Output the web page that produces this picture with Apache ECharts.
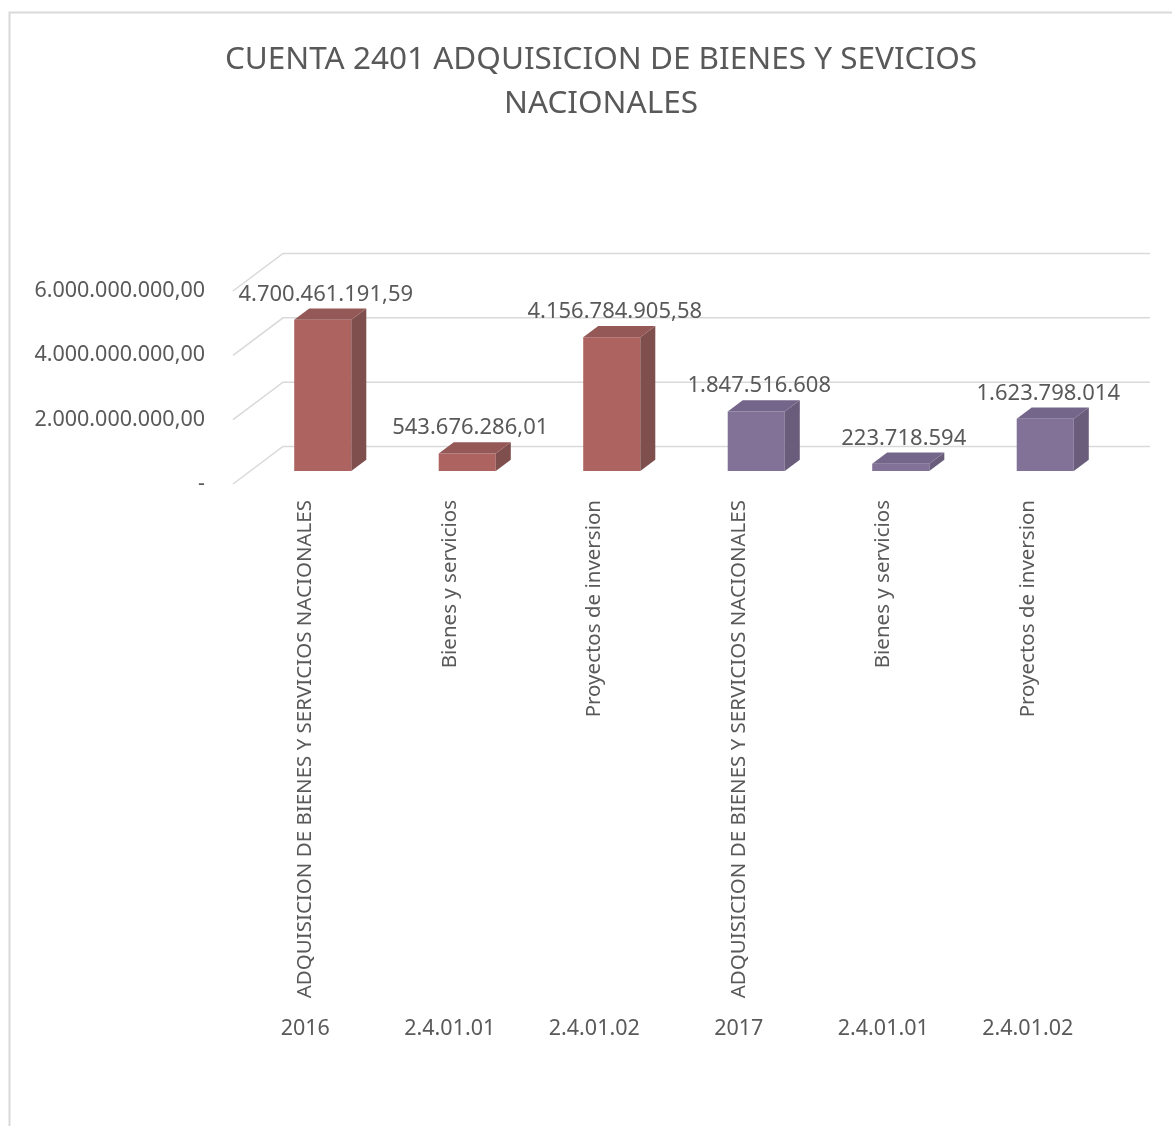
<!DOCTYPE html>
<html>
<head>
<meta charset="utf-8">
<title>Cuenta 2401</title>
<script src="https://cdn.jsdelivr.net/npm/echarts@6/dist/echarts.min.js"></script>
<style>
  html, body { margin: 0; padding: 0; background: #fff; }
  #chart { width: 1172px; height: 1126px; }
</style>
</head>
<body>
<div id="chart"></div>
<script>
// categories (rotated name + code line under it)
var names = [
  "ADQUISICION DE BIENES Y SERVICIOS NACIONALES",
  "Bienes y servicios",
  "Proyectos de inversion",
  "ADQUISICION DE BIENES Y SERVICIOS NACIONALES",
  "Bienes y servicios",
  "Proyectos de inversion"
];
var codes = ["2016", "2.4.01.01", "2.4.01.02", "2017", "2.4.01.01", "2.4.01.02"];

// values
var values2016 = [4700461191.59, 543676286.01, 4156784905.58];
var values2017 = [1847516608, 223718594, 1623798014];

// value axis ticks
var yTicks = [0, 2000000000, 4000000000, 6000000000];

// depth of the 3d box (front -> back wall)
var DX = 50, DY = -37.5;
var TEXT = "#595959";
var FONT = "Noto Sans";

function fmt(v, dec) {
  var p = v.toFixed(dec).split(".");
  var s = p[0].replace(/\B(?=(\d{3})+(?!\d))/g, ".");
  return dec ? s + "," + p[1] : s;
}

function barItem(colors, dec) {
  return function (params, api) {
    var i = api.value(0), v = api.value(1);
    var top = api.coord([i, v]);
    var base = api.coord([i, 0]);
    var band = api.size([1, 0])[0];
    var w = band * 0.395;
    // bar sits in the middle of the depth
    var ox = DX * 0.35, oy = DY * 0.35;
    var dx = DX * 0.3, dy = DY * 0.3;
    var xl = top[0] - w / 2 + ox, xr = xl + w;
    var yt = top[1] + oy, yb = base[1] + oy;
    return {
      type: "group",
      children: [
        { type: "rect", shape: { x: xl, y: yt, width: w, height: yb - yt },
          style: { fill: colors[0] } },
        { type: "polygon", shape: { points: [[xr, yt], [xr + dx, yt + dy], [xr + dx, yb + dy], [xr, yb]] },
          style: { fill: colors[1] } },
        { type: "polygon", shape: { points: [[xl, yt], [xr, yt], [xr + dx, yt + dy], [xl + dx, yt + dy]] },
          style: { fill: colors[2] } },
        { type: "text", x: xl + w / 2 + 3, y: yt + dy - 14,
          style: { text: fmt(v, dec), fill: TEXT, font: "22px " + FONT, align: "center", verticalAlign: "middle" } }
      ]
    };
  };
}

var chart = echarts.init(document.getElementById("chart"));

var option = {
  backgroundColor: "#fff",
  animation: false,
  title: {
    text: "CUENTA 2401 ADQUISICION DE BIENES Y SEVICIOS\nNACIONALES",
    left: 596,
    top: 33,
    textAlign: "center",
    textStyle: { color: TEXT, fontFamily: FONT, fontSize: 31.5, fontWeight: "normal", lineHeight: 44 }
  },
  graphic: [
    { type: "rect", left: 7, top: 10, shape: { width: 1200, height: 1200 },
      style: { fill: "none", stroke: "#d9d9d9", lineWidth: 2 } }
  ],
  grid: { left: 233, right: 72, top: 291, bottom: 642 },
  xAxis: [
    {
      type: "category",
      data: names,
      axisLine: { show: false },
      axisTick: { show: false },
      axisLabel: { rotate: 90, margin: 16, interval: 0, color: TEXT, fontFamily: FONT, fontSize: 20.5 }
    },
    {
      type: "category",
      data: codes,
      position: "bottom",
      offset: 526,
      axisLine: { show: false },
      axisTick: { show: false },
      axisLabel: { margin: 8, interval: 0, color: TEXT, fontFamily: FONT, fontSize: 21.5 }
    }
  ],
  yAxis: {
    type: "value",
    min: 0,
    max: 6000000000,
    interval: 2000000000,
    axisLine: { show: false },
    axisTick: { show: false },
    splitLine: { show: false },
    axisLabel: {
      margin: 28, color: TEXT, fontFamily: FONT, fontSize: 21.5,
      formatter: function (v) { return v === 0 ? "-" : fmt(v, 2); }
    }
  },
  series: [
    {
      name: "frame",
      type: "custom",
      silent: true,
      clip: false,
      data: yTicks.map(function (t) { return [0, t]; }),
      renderItem: function (params, api) {
        var cs = params.coordSys;
        var y = api.coord([0, api.value(1)])[1];
        var x0 = cs.x, x1 = cs.x + cs.width;
        return {
          type: "polyline",
          shape: { points: [[x0, y], [x0 + DX, y + DY], [x1 + DX, y + DY]] },
          style: { stroke: "#d9d9d9", lineWidth: 1.5, fill: "none" }
        };
      }
    },
    {
      name: "2016",
      type: "custom",
      clip: false,
      data: values2016.map(function (v, i) { return [i, v]; }),
      renderItem: barItem(["#ad6461", "#7f4f4e", "#945857"], 2)
    },
    {
      name: "2017",
      type: "custom",
      clip: false,
      data: values2017.map(function (v, i) { return [i + 3, v]; }),
      renderItem: barItem(["#827297", "#6a5d7b", "#73668a"], 0)
    }
  ]
};

chart.setOption(option);
</script>
</body>
</html>
